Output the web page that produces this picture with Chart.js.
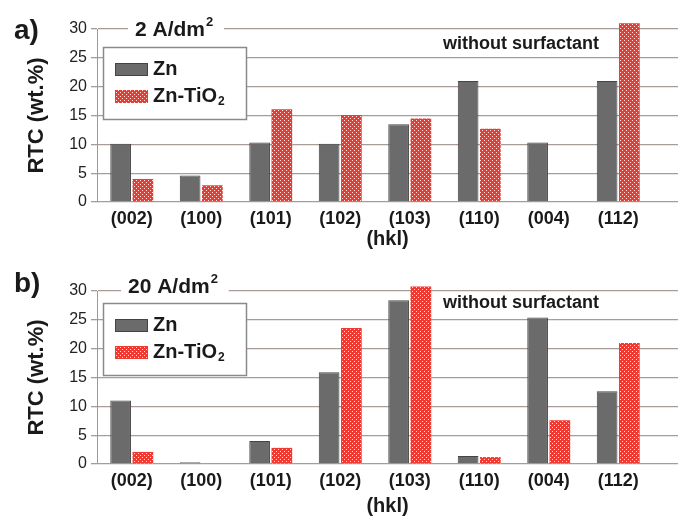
<!DOCTYPE html>
<html>
<head>
<meta charset="utf-8">
<script src="https://cdn.jsdelivr.net/npm/chart.js@4.4.1/dist/chart.umd.min.js"></script>
<style>
  body { margin: 0; background: #fff; }
  .panel { position: absolute; left: 0; width: 686px; height: 259px; }
</style>
</head>
<body>
<div class="panel" style="top:0"><canvas id="chartA" width="686" height="259"></canvas></div>
<div class="panel" style="top:259px"><canvas id="chartB" width="686" height="259"></canvas></div>
<script>
var categorias = ['(002)', '(100)', '(101)', '(102)', '(103)', '(110)', '(004)', '(112)'];
var yTicks = [0, 5, 10, 15, 20, 25, 30];

// a) 2 A/dm2
var zn_2 = [10.1, 4.6, 10.3, 10.1, 13.5, 21.0, 10.3, 21.0];
var znTiO2_2 = [4.0, 2.9, 16.1, 15.1, 14.5, 12.7, 0, 31.0];

// b) 20 A/dm2
var zn_20 = [11.0, 0.3, 4.0, 15.9, 28.4, 1.4, 25.4, 12.6];
var znTiO2_20 = [2.1, 0, 2.8, 23.6, 30.8, 1.2, 7.6, 21.0];

var fuente = 'Liberation Sans, Arial, sans-serif';
var colorGris = '#6b6b6b';
var colorGrid = '#a79c97';

// patron rojo cuadriculado
function patronRojo() {
    var c = document.createElement('canvas');
    c.width = 4; c.height = 4;
    var ctx = c.getContext('2d');
    ctx.fillStyle = '#ec3b33';
    ctx.fillRect(0, 0, 4, 4);
    ctx.fillStyle = '#ffe4e0';
    ctx.fillRect(0, 0, 1, 1);
    ctx.fillRect(2, 2, 1, 1);
    return c.getContext('2d').createPattern(c, 'repeat');
}
var rojo = patronRojo();

function puntos(valores) {
    return valores.map(function (v, i) { return { x: i, y: v }; });
}

function textoSub(ctx, base, sub, x, y, size, sup) {
    ctx.font = 'bold ' + size + 'px ' + fuente;
    ctx.fillText(base, x, y);
    var w = ctx.measureText(base).width;
    var s = Math.round(size * 0.62);
    ctx.font = 'bold ' + s + 'px ' + fuente;
    ctx.fillText(sub, x + w + 1, sup ? y - size * 0.38 : y + size * 0.28);
    return w + ctx.measureText(sub).width + 1;
}

var anotaciones = {
    id: 'anotaciones',
    afterDatasetsDraw: function (chart, args, opts) {
        var ctx = chart.ctx;
        ctx.save();
        ctx.fillStyle = '#1a1a1a';
        ctx.textBaseline = 'middle';
        ctx.textAlign = 'left';

        // letra del panel
        ctx.font = 'bold 28px ' + fuente;
        ctx.fillText(opts.letra, 14, opts.letraY);

        // titulo con fondo blanco
        ctx.font = 'bold 21px ' + fuente;
        var wt = ctx.measureText(opts.titulo).width + 14;
        ctx.fillStyle = '#fff';
        ctx.fillRect(opts.tituloX - 7, opts.tituloY - 13, wt + 12, 26);
        ctx.fillStyle = '#1a1a1a';
        textoSub(ctx, opts.titulo, '2', opts.tituloX, opts.tituloY, 21, true);

        // without surfactant
        ctx.font = 'bold 18px ' + fuente;
        ctx.fillText('without surfactant', 443, opts.notaY);

        // leyenda
        var lx = 103, ly = opts.leyendaY, lw = 143, lh = 72;
        ctx.fillStyle = '#fff';
        ctx.fillRect(lx, ly, lw, lh);
        ctx.strokeStyle = '#8a8a8a';
        ctx.lineWidth = 1.5;
        ctx.strokeRect(lx + 0.5, ly + 0.5, lw, lh);

        ctx.fillStyle = colorGris;
        ctx.fillRect(115, ly + 16, 33, 13);
        ctx.strokeStyle = '#444';
        ctx.lineWidth = 1;
        ctx.strokeRect(115.5, ly + 16.5, 32, 12);
        ctx.fillStyle = rojo;
        ctx.fillRect(115, ly + 43, 33, 13);

        ctx.fillStyle = '#1a1a1a';
        ctx.font = 'bold 20px ' + fuente;
        ctx.fillText('Zn', 153, ly + 22);
        textoSub(ctx, 'Zn-TiO', '2', 153, ly + 49, 20, false);
        ctx.restore();
    }
};

function crearGrafica(id, datosZn, datosTiO2, opciones) {
    var canvas = document.getElementById(id).getContext('2d');
    return new Chart(canvas, {
        type: 'bar',
        data: {
            datasets: [{
                label: 'Zn',
                data: puntos(datosZn),
                backgroundColor: colorGris,
                borderColor: '#454545',
                borderWidth: 1,
                categoryPercentage: 0.64,
                barPercentage: 0.93,
                clip: false
            }, {
                label: 'Zn-TiO2',
                data: puntos(datosTiO2),
                backgroundColor: rojo,
                borderWidth: 0,
                categoryPercentage: 0.64,
                barPercentage: 0.93,
                clip: false
            }]
        },
        options: {
            responsive: false,
            animation: false,
            layout: {
                padding: { left: 0, right: 8, top: opciones.arriba, bottom: 0 }
            },
            plugins: {
                legend: { display: false },
                tooltip: { enabled: false },
                anotaciones: opciones
            },
            scales: {
                x: {
                    type: 'linear',
                    offset: false,
                    min: -0.5,
                    max: 7.86,
                    afterBuildTicks: function (scale) {
                        scale.ticks = categorias.map(function (c, i) { return { value: i }; });
                    },
                    grid: { display: false, drawTicks: false },
                    border: { display: false },
                    ticks: {
                        color: '#1a1a1a',
                        padding: 6,
                        autoSkip: false,
                        maxRotation: 0,
                        font: { family: fuente, size: 18, weight: 'bold' },
                        callback: function (v) { return categorias[v]; }
                    },
                    title: {
                        display: true,
                        text: '(hkl)',
                        color: '#1a1a1a',
                        padding: { top: opciones.hklPad, bottom: opciones.hklPad },
                        font: { family: fuente, size: 20, weight: 'bold' }
                    },
                    afterFit: function (scale) { scale.height = opciones.altoX; }
                },
                y: {
                    min: 0,
                    max: 30,
                    afterBuildTicks: function (scale) {
                        scale.ticks = yTicks.map(function (v) { return { value: v }; });
                    },
                    grid: { color: colorGrid, lineWidth: 1.3, tickLength: 6 },
                    border: { display: true, color: '#9a9a9a', width: 1 },
                    ticks: {
                        color: '#222',
                        padding: 4,
                        font: { family: fuente, size: 16 }
                    },
                    title: {
                        display: true,
                        text: 'RTC (wt.%)',
                        color: '#1a1a1a',
                        padding: { top: 24, bottom: 0 },
                        font: { family: fuente, size: 22, weight: 'bold' }
                    },
                    afterFit: function (scale) { scale.width = 97; }
                }
            }
        },
        plugins: [anotaciones]
    });
}

crearGrafica('chartA', zn_2, znTiO2_2, {
    arriba: 29, altoX: 57, hklPad: 8,
    letra: 'a)', letraY: 31,
    titulo: '2 A/dm', tituloX: 135, tituloY: 30,
    notaY: 44, leyendaY: 47
});

crearGrafica('chartB', zn_20, znTiO2_20, {
    arriba: 32, altoX: 54, hklPad: 0,
    letra: 'b)', letraY: 25,
    titulo: '20 A/dm', tituloX: 128, tituloY: 28,
    notaY: 44, leyendaY: 44
});
</script>
</body>
</html>
